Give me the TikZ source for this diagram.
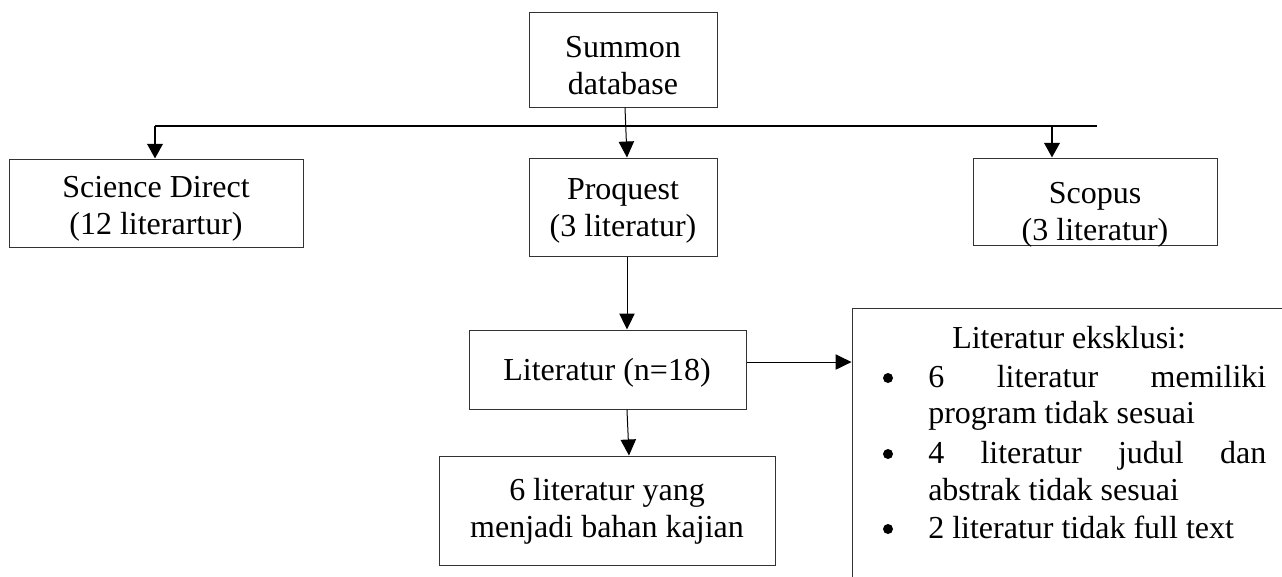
\documentclass[tikz,border=0pt]{standalone}
\usepackage{fontspec}
\setmainfont{Liberation Serif}
\usetikzlibrary{arrows.meta,fit}
\begin{document}
\begin{tikzpicture}[x=0.75pt,y=-0.75pt,
  box/.style={draw=black!80, line width=0.75pt, inner sep=0pt},
  txt/.style={anchor=base, inner sep=0pt, font=\fontsize{24}{27.75}\selectfont},
  dot/.style={circle, fill=black, inner sep=0pt, minimum size=7.5pt},
  arr/.style={line width=0.75pt, -{Triangle[width=11.5pt,length=12pt]}},
  thickarr/.style={line width=2pt, -{Triangle[width=11.5pt,length=11pt]}},
  bar/.style={line width=2pt}
]
\useasboundingbox (0,0) rectangle (1282,576);
\fill[white] (0,0) rectangle (1282,576);
\clip (0,0) rectangle (1282,576);

% boxes
\node[box, fit={(529,12) (717,107)}] (summon) {};
\node[box, fit={(9,159) (303,247)}] (sd) {};
\node[box, fit={(529,158) (717,256)}] (pq) {};
\node[box, fit={(973,158) (1217,245)}] (sc) {};
\node[box, fit={(469,330) (746,409)}] (lit) {};
\node[box, fit={(439,456) (775,565)}] (six) {};
\node[box, fit={(852,308) (1400,700)}] (eks) {};

% texts
\node[txt] (summont) at (623,57) {\begin{tabular}[t]{@{}c@{}}Summon\\database\end{tabular}};
\node[txt] (sdt) at (156,197) {\begin{tabular}[t]{@{}c@{}}Science Direct\\(12 literartur)\end{tabular}};
\node[txt] (pqt) at (623,199) {\begin{tabular}[t]{@{}c@{}}Proquest\\(3 literatur)\end{tabular}};
\node[txt] (sct) at (1095,203) {\begin{tabular}[t]{@{}c@{}}Scopus\\(3 literatur)\end{tabular}};
\node[txt] (litt) at (607,380) {Literatur (n=18)};
\node[txt] (sixt) at (607,500) {\begin{tabular}[t]{@{}c@{}}6 literatur yang\\menjadi bahan kajian\end{tabular}};

\node[txt, anchor=base west] (ekt) at (952,348) {Literatur eksklusi:};
\node[dot] (b1) at (888,378) {};
\node[dot] (b2) at (888,454) {};
\node[dot] (b3) at (888,529) {};
\node[txt, anchor=base west] (e1) at (928,387) {\makebox[253.5pt][s]{6\hfill literatur\hfill memiliki}};
\node[txt, anchor=base west] (e2) at (928,423) {program tidak sesuai};
\node[txt, anchor=base west] (e3) at (928,463) {\makebox[253.5pt][s]{4\hfill literatur\hfill judul\hfill dan}};
\node[txt, anchor=base west] (e4) at (928,500) {abstrak tidak sesuai};
\node[txt, anchor=base west] (e5) at (928,538) {2 literatur tidak full text};

% connectors
\coordinate (hl) at (155,126);
\coordinate (hr) at (1097,126);
\coordinate (hs) at (1052,126);
\draw[bar] (hl) -- (hr);
\draw[thickarr] (hl) -- (hl |- sd.north);
\draw[thickarr] (hs) -- (hs |- sc.north);
\draw[arr] ([xshift=1.5pt]summon.south) -- ([xshift=3pt]pq.north);
\draw[arr] ([xshift=3pt]pq.south) -- ([xshift=3pt]pq.south |- lit.north);
\draw[arr] ([xshift=14.6pt]lit.south) -- ([xshift=16.5pt]six.north);
\draw[arr] ([yshift=5.6pt]lit.east) -- ([yshift=5.6pt]lit.east -| eks.west);
\end{tikzpicture}
\end{document}
